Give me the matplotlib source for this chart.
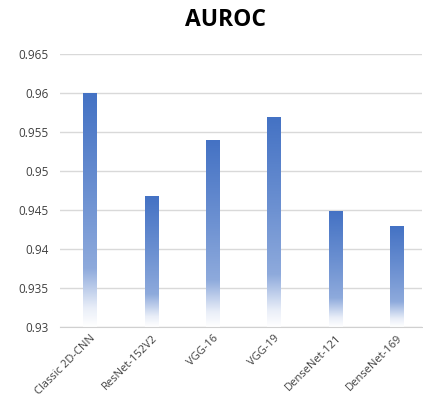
import numpy as np
import matplotlib.pyplot as plt
from matplotlib.colors import LinearSegmentedColormap

models = ['Classic 2D-CNN', 'ResNet-152V2', 'VGG-16', 'VGG-19',
          'DenseNet-121', 'DenseNet-169']
auroc = [0.960, 0.9467, 0.9539, 0.9568, 0.9448, 0.9429]
yticks = [0.93, 0.935, 0.94, 0.945, 0.95, 0.955, 0.96, 0.965]
ytick_labels = ['0.93', '0.935', '0.94', '0.945', '0.95', '0.955', '0.96', '0.965']

plt.rcParams['font.family'] = ['Open Sans', 'DejaVu Sans']

# gradient from bar bottom (0) to bar top (1)
grad = LinearSegmentedColormap.from_list('bar_grad', [
    (0.0, '#ffffff'),
    (0.08, '#e9eef8'),
    (0.25, '#8eaadc'),
    (0.55, '#6e92d2'),
    (1.0, '#4472c4'),
])

fig = plt.figure(figsize=(4.23, 3.98), dpi=100)
ax = fig.add_axes([59.5 / 423, 1 - 327 / 398, (422 - 59.5) / 423, (327 - 54) / 398])

ybase = 0.93
width = 0.22
ramp = np.linspace(0, 1, 256).reshape(-1, 1)
for i, v in enumerate(auroc):
    ax.imshow(ramp, cmap=grad, origin='lower', aspect='auto',
              extent=(i - width / 2, i + width / 2, ybase, v),
              interpolation='bicubic', zorder=3)

ax.set_xlim(-0.5, -0.5 + (422 - 59.5) / 61.3)
ax.set_ylim(0.93, 0.965)
ax.set_yticks(yticks)
ax.set_yticklabels(ytick_labels)
ax.set_xticks(range(len(models)))
ax.set_xticklabels(models, rotation=45, ha='right', rotation_mode='anchor')

ax.grid(axis='y', color='#d9d9d9', linewidth=1, zorder=0)
ax.set_axisbelow(True)
for s in ['top', 'right', 'left']:
    ax.spines[s].set_visible(False)
ax.spines['bottom'].set_color('#d0d0d0')
ax.spines['bottom'].set_zorder(4)
ax.tick_params(axis='y', length=0, pad=8, labelsize=8.5, labelcolor='#404040')
ax.tick_params(axis='x', length=0, pad=4, labelsize=8, labelcolor='#404040')

fig.text(225 / 423, 1 - 20 / 398, 'AUROC', ha='center', va='center',
         fontsize=16.5, fontweight='bold', color='#000000')

fig.savefig('out.png', dpi=100)
